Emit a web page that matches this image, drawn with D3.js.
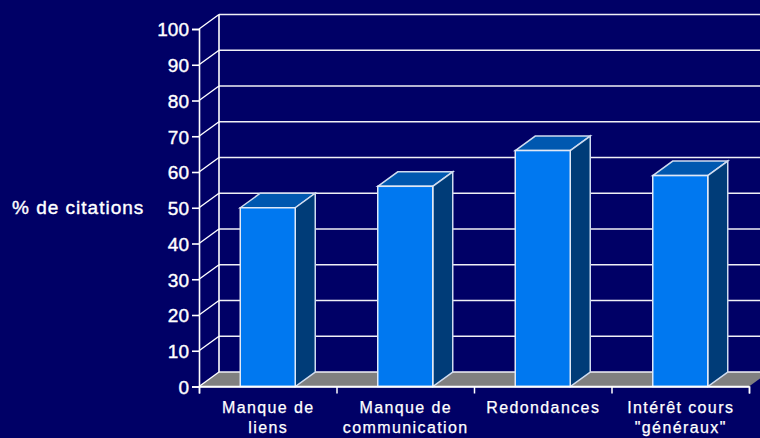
<!DOCTYPE html>
<html>
<head>
<meta charset="utf-8">
<script src="https://cdn.jsdelivr.net/npm/d3@7"></script>
<style>
  html, body { margin: 0; padding: 0; background: #000066; overflow: hidden; }
  text { font-family: "Liberation Sans", Arial, sans-serif; fill: #fff; }
</style>
</head>
<body>
<svg id="chart" width="760" height="438"></svg>
<script>
const categories = ["Manque de|liens", "Manque de|communication", "Redondances", "Intérêt cours|\"généraux\""];
const citations = [50, 56, 66, 59];
const yTicks = [0, 10, 20, 30, 40, 50, 60, 70, 80, 90, 100];

// 3d offset of the back wall
const depthX = 20, depthY = -14.5;

const svg = d3.select("#chart");

const x = d3.scaleBand().domain(d3.range(categories.length)).range([199, 749]).paddingInner(0.6).paddingOuter(0.3);
const xEdges = d3.scaleLinear().domain([0, categories.length]).range([199, 749]);
const y = d3.scaleLinear().domain([0, 100]).range([386.5, 29]);

//floor
svg.append("polygon")
  .attr("points", [
    [xEdges(0), y(0)],
    [xEdges(0) + depthX, y(0) + depthY],
    [xEdges(4) + depthX, y(0) + depthY],
    [xEdges(4), y(0)]
  ].join(" "))
  .attr("fill", "#808080");

//gridlines on the back wall and the side wall
svg.selectAll(".grid").data(yTicks).join("line")
  .attr("class", "grid")
  .attr("x1", xEdges(0) + depthX).attr("x2", xEdges(4) + depthX)
  .attr("y1", d => y(d) + depthY).attr("y2", d => y(d) + depthY)
  .attr("stroke", "#f0f0f6").attr("stroke-width", 1.5);

svg.selectAll(".side").data(yTicks).join("line")
  .attr("class", "side")
  .attr("x1", xEdges(0)).attr("x2", xEdges(0) + depthX)
  .attr("y1", d => y(d)).attr("y2", d => y(d) + depthY)
  .attr("stroke", "#fff").attr("stroke-width", 1.4);

svg.append("line")
  .attr("x1", xEdges(0) + depthX).attr("x2", xEdges(0) + depthX)
  .attr("y1", y(100) + depthY).attr("y2", y(0) + depthY)
  .attr("stroke", "#fff").attr("stroke-width", 1.6);

//axes
const yAxis = svg.append("g")
  .attr("transform", `translate(${xEdges(0)},0)`)
  .call(d3.axisLeft(y).tickValues(yTicks).tickSize(7).tickPadding(3));
yAxis.selectAll("text").style("font-size", "19px").style("font-weight", "400").attr("dy", "0.36em").attr("stroke", "#fff").attr("stroke-width", 0.4);
yAxis.selectAll("line, path").attr("stroke", "#fff").attr("stroke-width", 1.6);

const xAxis = svg.append("g")
  .attr("transform", `translate(0,${y(0)})`)
  .call(d3.axisBottom(xEdges).tickValues(d3.range(categories.length + 1)).tickSize(7).tickFormat(""));
xAxis.selectAll("line, path").attr("stroke", "#fff").attr("stroke-width", 1.5);

//bars, back to front: top, side, then front face
const bars = svg.selectAll(".bar").data(citations).join("g").attr("class", "bar");

bars.append("polygon")
  .attr("points", (d, i) => [
    [x(i), y(d)],
    [x(i) + depthX, y(d) + depthY],
    [x(i) + x.bandwidth() + depthX, y(d) + depthY],
    [x(i) + x.bandwidth(), y(d)]
  ].join(" "))
  .attr("fill", "#0058b0").attr("stroke", "#d0dcf0").attr("stroke-width", 1.5);

bars.append("polygon")
  .attr("points", (d, i) => [
    [x(i) + x.bandwidth(), y(d)],
    [x(i) + x.bandwidth() + depthX, y(d) + depthY],
    [x(i) + x.bandwidth() + depthX, y(0) + depthY],
    [x(i) + x.bandwidth(), y(0)]
  ].join(" "))
  .attr("fill", "#003c78").attr("stroke", "#d0dcf0").attr("stroke-width", 1.5);

bars.append("rect")
  .attr("x", (d, i) => x(i))
  .attr("y", d => y(d))
  .attr("width", x.bandwidth())
  .attr("height", d => y(0) - y(d))
  .attr("fill", "#0078f0").attr("stroke", "#e0e8f6").attr("stroke-width", 1.5);

//front edge of the floor goes on top of the bars
svg.append("line")
  .attr("x1", xEdges(0)).attr("x2", xEdges(4))
  .attr("y1", y(0)).attr("y2", y(0))
  .attr("stroke", "#fff").attr("stroke-width", 1.6);

//category labels
const labels = svg.selectAll(".cat").data(categories).join("text")
  .attr("class", "cat")
  .attr("text-anchor", "middle")
  .style("font-size", "16px")
  .style("letter-spacing", "1.4px")
  .attr("stroke", "#fff").attr("stroke-width", 0.25);

labels.selectAll("tspan").data((d, i) => d.split("|").map(t => ({ t, i }))).join("tspan")
  .attr("x", d => x(d.i) + x.bandwidth() / 2 + 0.5)
  .attr("y", (d, j) => 412.5 + j * 20.5)
  .text(d => d.t);

svg.append("text")
  .attr("x", 12).attr("y", 214)
  .style("font-size", "19px")
  .style("letter-spacing", "1px")
  .attr("stroke", "#fff").attr("stroke-width", 0.4)
  .text("% de citations");
</script>
</body>
</html>
